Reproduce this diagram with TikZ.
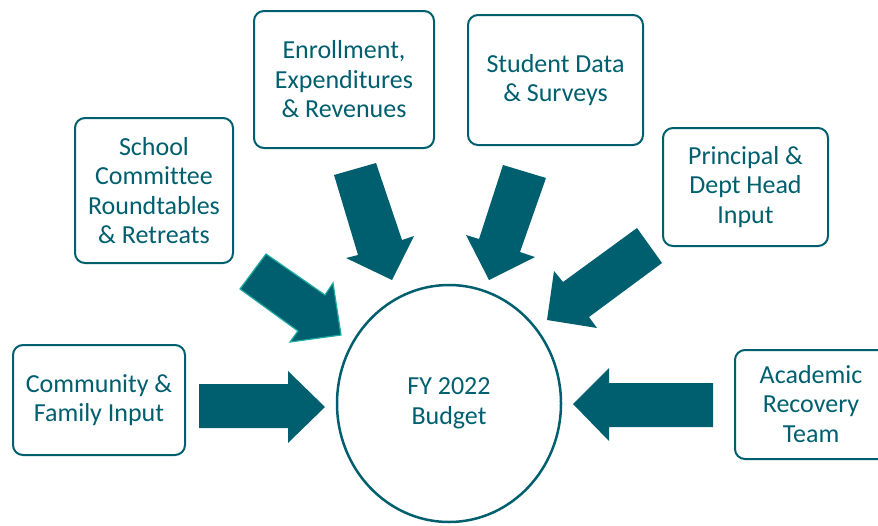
\documentclass[tikz,border=0pt]{standalone}
\usepackage{fontspec}
\setmainfont[Ligatures=NoCommon]{Carlito}
\usetikzlibrary{shapes.geometric}
\definecolor{teal1}{RGB}{0,95,110}
\definecolor{teallight}{RGB}{30,170,160}
\tikzset{
  box/.style={draw=teal1, line width=2pt, rounded corners=10pt, fill=white, text=teal1, align=center,
    font=\fontsize{26}{29.5}\selectfont, inner sep=0pt},
  blockarrow/.style={fill=teal1},
}
\begin{document}
\begin{tikzpicture}[x=1pt,y=-1pt]
\useasboundingbox (0,0) rectangle (878,525);
% boxes
\node[box, minimum width=158, minimum height=145] (school) at (154,190.5) {School\\Committee\\Roundtables\\\& Retreats};
\node[box, minimum width=180, minimum height=137] (enroll) at (344,79.5) {Enrollment,\\Expenditures\\\& Revenues};
\node[box, minimum width=175, minimum height=130] (student) at (555.5,80) {Student Data\\\& Surveys};
\node[box, minimum width=165, minimum height=118] (principal) at (745.5,187) {Principal \&\\Dept Head\\Input};
\node[box, minimum width=172, minimum height=110] (community) at (99,400) {Community \&\\Family Input};
\draw[draw=teal1, line width=2pt, rounded corners=10pt] (900,350) -- (735,350) -- (735,459) -- (900,459);
\node[text=teal1, align=center, font=\fontsize{26}{29.5}\selectfont] (academic) at (811,404) {Academic\\Recovery\\Team};
% budget circle
\node[draw=teal1, line width=2.5pt, ellipse, minimum width=224, minimum height=237, inner sep=0pt,
  text=teal1, align=center, font=\fontsize{26}{29.5}\selectfont] (budget) at (449,403.5) {FY 2022\\Budget};
% block arrows
\fill[blockarrow] (199,384) -- (288,384) -- (288,371) -- (325,407) -- (288,443) -- (288,428) -- (199,428) -- cycle;
\fill[blockarrow] (713,383) -- (609,383) -- (609,368) -- (573,404) -- (609,441) -- (609,427) -- (713,427) -- cycle;
\filldraw[blockarrow, draw=teallight, line width=1.2pt, line join=miter] (266,254) -- (325,295) -- (333,283) -- (341,335) -- (290,342) -- (298,331) -- (240,289) -- cycle;
\fill[blockarrow] (334,175) -- (376,163) -- (402,240) -- (414,236) -- (392,280) -- (346,258) -- (358,255) -- cycle;
\fill[blockarrow] (503,165) -- (546,178) -- (520,252) -- (535,257) -- (489,280) -- (466,235) -- (479,239) -- cycle;
\fill[blockarrow] (637,228) -- (662,263) -- (589,317) -- (597,328) -- (547,320) -- (554,271) -- (563,282) -- cycle;
\end{tikzpicture}
\end{document}
